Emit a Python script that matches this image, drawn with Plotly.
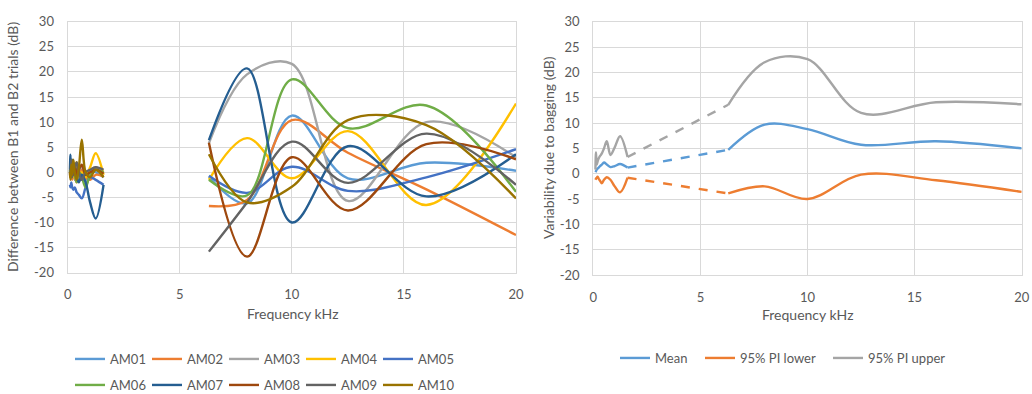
import plotly.graph_objects as go

W, H = 1032, 394

# ---------------- data ----------------
freq_low = [0.1, 0.125, 0.16, 0.2, 0.25, 0.315, 0.4, 0.5, 0.63, 0.8, 1.0, 1.25, 1.6]
freq_high = [6.3, 8, 10, 12.5, 16, 20]

series_names = ["AM01", "AM02", "AM03", "AM04", "AM05",
                "AM06", "AM07", "AM08", "AM09", "AM10"]
series_colors = ["#5B9BD5", "#ED7D31", "#A5A5A5", "#FFC000", "#4472C4",
                 "#70AD47", "#255E91", "#9E480E", "#636363", "#997300"]

am01_low = [0.5, -0.5, 1.0, -1.0, 0.5, -1.5, 0.0, 1.0, -0.5, -1.5, 0.5, 0.0, -1.0]
am02_low = [-0.5, -1.0, 0.0, -1.5, -0.5, -1.0, -2.0, -0.5, 0.5, -1.0, -1.5, -0.5, -0.8]
am03_low = [0.0, 1.0, -0.5, 0.5, 1.5, 0.0, -1.0, 0.5, 1.0, 0.0, 0.5, 1.0, 0.0]
am04_low = [0.5, 0.0, 1.5, 0.5, -1.0, 1.0, 2.0, -0.5, 0.0, -1.0, 1.0, 3.8, -0.5]
am05_low = [-2.5, -3.0, -2.0, -3.0, -3.5, -3.0, -4.0, -4.5, -5.2, -3.0, -1.0, -1.5, -2.5]
am06_low = [0.0, 1.0, -1.0, 0.5, 2.0, -0.5, -2.0, 0.0, -1.0, -3.0, -0.5, 0.5, 0.0]
am07_low = [0.5, 3.5, -1.0, 2.5, 0.0, 1.5, -1.0, -2.0, -0.5, -2.0, -6.0, -9.2, -2.5]
am08_low = [0.0, -1.0, 1.0, 0.0, -0.5, 1.5, -0.5, 0.5, 1.5, -0.5, 0.0, 0.5, -0.3]
am09_low = [-0.5, 0.0, 2.5, -1.0, 0.5, 1.0, 2.0, 0.0, -1.5, 0.0, 0.5, 1.0, 0.5]
am10_low = [0.0, -1.5, 1.5, -0.5, 2.5, 0.0, -1.5, 1.0, 6.5, 0.0, -1.0, 0.5, -1.0]

am01_high = [-0.9, -6.2, 11.3, -1.2, 1.9, 0.3]
am02_high = [-6.7, -5.5, 10.4, 3.9, -3.4, -12.5]
am03_high = [5.8, 19.5, 21.6, -5.7, 10.0, 3.0]
am04_high = [-1.5, 6.8, -1.2, 8.2, -6.5, 13.7]
am05_high = [-0.7, -4.1, 1.1, -3.7, -1.0, 4.6]
am06_high = [-1.5, -4.6, 18.5, 8.8, 13.3, -3.9]
am07_high = [6.4, 20.7, -10.0, 5.2, -4.8, 3.6]
am08_high = [5.9, -16.8, 3.0, -7.6, 5.6, 2.6]
am09_high = [-15.8, -6.0, 6.1, -2.1, 7.7, -2.5]
am10_high = [3.6, -6.0, -2.9, 10.4, 9.4, -5.2]

left_low = [am01_low, am02_low, am03_low, am04_low, am05_low,
            am06_low, am07_low, am08_low, am09_low, am10_low]
left_high = [am01_high, am02_high, am03_high, am04_high, am05_high,
             am06_high, am07_high, am08_high, am09_high, am10_high]

stat_names = ["Mean", "95% PI lower", "95% PI upper"]
stat_colors = ["#5B9BD5", "#ED7D31", "#A5A5A5"]
mean_low = [0.3, 0.5, 0.8, 1.0, 1.2, 1.5, 1.8, 2.2, 1.8, 1.3, 1.5, 1.9, 1.2]
lower_low = [-1.2, -1.0, -0.8, -0.6, -1.0, -1.4, -1.9, -1.2, -0.7, -1.2, -2.5, -3.7, -0.8]
upper_low = [0.8, 4.2, 1.8, 2.4, 3.0, 3.5, 4.0, 5.0, 6.4, 3.7, 5.2, 7.4, 3.3]
mean_high = [4.7, 9.7, 8.8, 5.7, 6.4, 5.0]
lower_high = [-3.9, -2.5, -5.0, -0.2, -1.3, -3.6]
upper_high = [13.6, 22.0, 22.6, 12.0, 14.1, 13.7]
right_low = [mean_low, lower_low, upper_low]
right_high = [mean_high, lower_high, upper_high]

x_ticks = [0, 5, 10, 15, 20]
y_ticks = [-20, -15, -10, -5, 0, 5, 10, 15, 20, 25, 30]
y_ticklabels = [str(v) for v in y_ticks]

# ---------------- figure ----------------
FONT = "Lato"
TXT = "#595959"
GRID = "#d9d9d9"
LW = 2.4

fig = go.Figure()

for i, name in enumerate(series_names):
    fig.add_trace(go.Scatter(
        x=freq_low + [None] + freq_high,
        y=left_low[i] + [None] + left_high[i],
        mode="lines", name=name,
        line=dict(color=series_colors[i], width=LW, shape="spline", smoothing=1.0),
        connectgaps=False,
        xaxis="x", yaxis="y",
        legend="legend" if i < 5 else "legend2",
    ))

for i, name in enumerate(stat_names):
    fig.add_trace(go.Scatter(
        x=[freq_low[-1], freq_high[0]],
        y=[right_low[i][-1], right_high[i][0]],
        mode="lines", showlegend=False, hoverinfo="skip",
        line=dict(color=stat_colors[i], width=LW, dash="dash"),
        xaxis="x2", yaxis="y2",
    ))
for i, name in enumerate(stat_names):
    fig.add_trace(go.Scatter(
        x=freq_low + [None] + freq_high,
        y=right_low[i] + [None] + right_high[i],
        mode="lines", name=name,
        line=dict(color=stat_colors[i], width=LW, shape="spline", smoothing=1.0),
        connectgaps=False,
        xaxis="x2", yaxis="y2", legend="legend%d" % (3 + i),
    ))

def px(v):
    return v / W

def py(v):
    return 1 - v / H

axis_common = dict(
    showgrid=True, gridcolor=GRID, gridwidth=1.3,
    showline=True, linecolor=GRID, linewidth=1.3, mirror=True,
    zeroline=False, ticks="", automargin=False,
    tickfont=dict(family=FONT, size=13, color=TXT),
)

legend_common = dict(
    orientation="h", font=dict(family=FONT, size=13, color=TXT),
    bgcolor="rgba(0,0,0,0)", yanchor="middle", xanchor="left",
    tracegroupgap=0, itemwidth=30, borderwidth=0,
)

title_font = dict(family=FONT, size=14, color=TXT)

fig.update_layout(
    width=W, height=H,
    margin=dict(l=0, r=0, t=0, b=0, autoexpand=False),
    paper_bgcolor="white", plot_bgcolor="white",
    font=dict(family=FONT, color=TXT),
    xaxis=dict(domain=[px(67.7), px(516)], range=[0, 20], tickvals=x_ticks,
               anchor="y", ticklabelstandoff=10, **axis_common),
    yaxis=dict(domain=[py(272.7), py(21.7)], range=[-20, 30], tickvals=y_ticks,
               ticktext=y_ticklabels, anchor="x", ticklabelstandoff=10, **axis_common),
    xaxis2=dict(domain=[px(593.3), px(1021.7)], range=[0, 20], tickvals=x_ticks,
                anchor="y2", ticklabelstandoff=10, **axis_common),
    yaxis2=dict(domain=[py(275), py(21.7)], range=[-20, 30], tickvals=y_ticks,
                ticktext=y_ticklabels, anchor="x2", ticklabelstandoff=10, **axis_common),
    legend=dict(x=px(70), y=py(359), entrywidth=32, entrywidthmode="pixels",
                **legend_common),
    legend2=dict(x=px(70), y=py(385), entrywidth=32, entrywidthmode="pixels",
                 **legend_common),
    legend3=dict(x=px(615), y=py(358), **legend_common),
    legend4=dict(x=px(700), y=py(358), **legend_common),
    legend5=dict(x=px(828), y=py(358), **legend_common),
    showlegend=True,
    annotations=[
        dict(text="Frequency kHz", x=px(292), y=py(313), xref="paper", yref="paper",
             xanchor="center", yanchor="middle", showarrow=False, font=title_font),
        dict(text="Frequency kHz", x=px(807), y=py(314), xref="paper", yref="paper",
             xanchor="center", yanchor="middle", showarrow=False, font=title_font),
        dict(text="Difference between B1 and B2 trials (dB)", x=px(13), y=py(147),
             xref="paper", yref="paper", xanchor="center", yanchor="middle",
             showarrow=False, textangle=-90, font=title_font),
        dict(text="Variability due to bagging (dB)", x=px(548), y=py(148),
             xref="paper", yref="paper", xanchor="center", yanchor="middle",
             showarrow=False, textangle=-90, font=title_font),
    ],
)

fig.write_html("out.html")
